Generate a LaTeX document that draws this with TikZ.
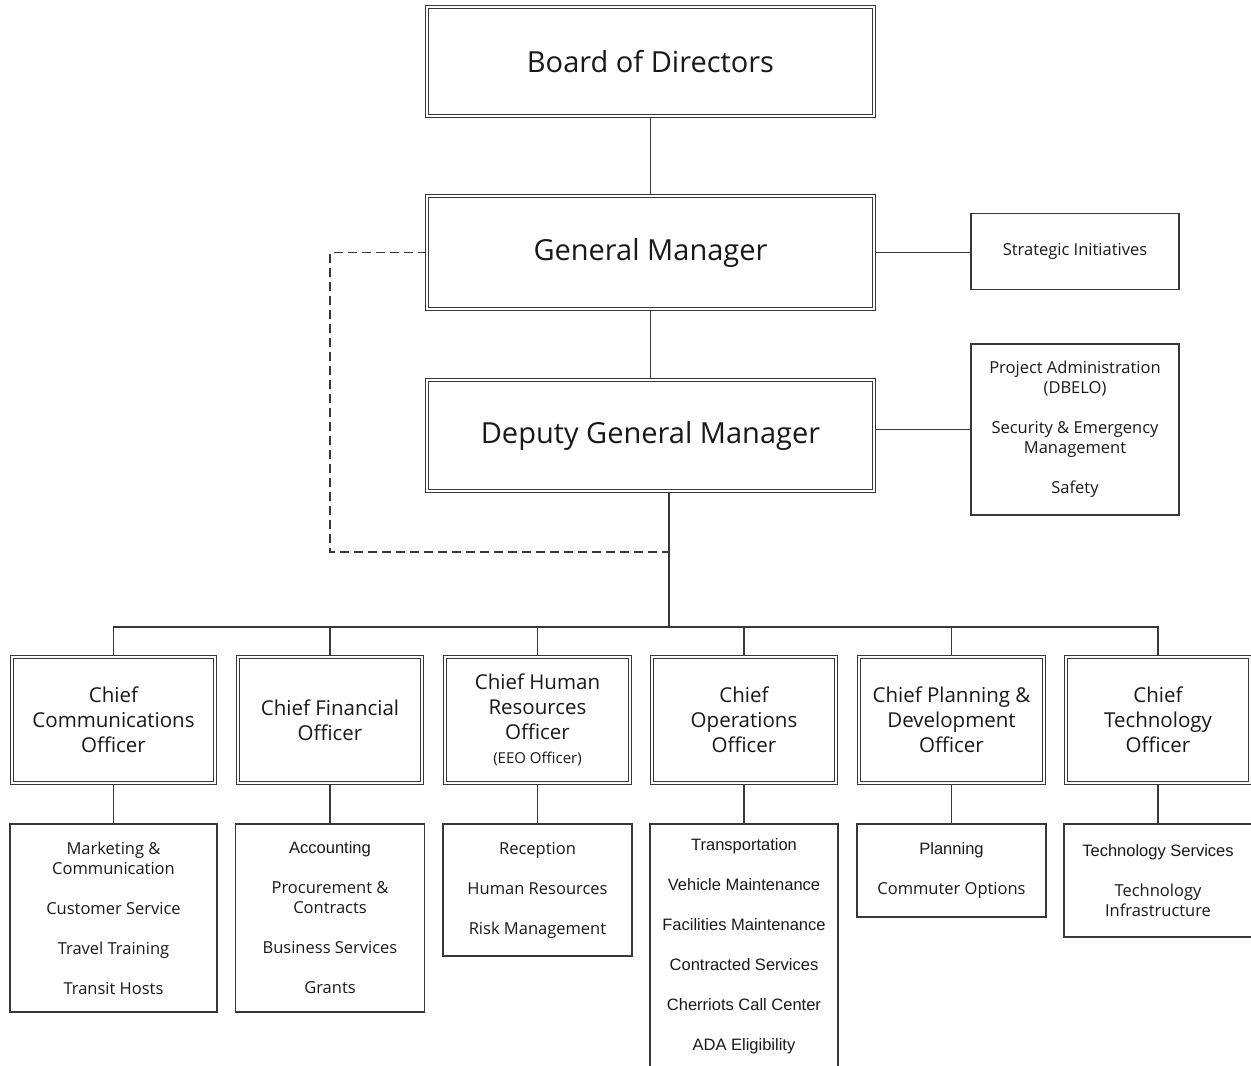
\documentclass[tikz,border=0pt]{standalone}
\usepackage{fontspec}
\setmainfont{Open Sans}
\newfontfamily\arialfont{Liberation Sans}
\usetikzlibrary{backgrounds}
\begin{document}
\begin{tikzpicture}[x=1pt,y=-1pt,
  lead/.style={draw=black!78, fill=white, double=white, double distance=2pt,
    line width=0.9pt, inner sep=0pt, align=center, text=black!90},
  unit/.style={draw=black!78, fill=white, line width=1.2pt, inner sep=0pt,
    align=center, text=black!90},
  link/.style={draw=black!78, line width=1.3pt},
  dotlink/.style={link, dash pattern=on 9pt off 5pt},
  big/.style={font=\fontsize{29}{35}\selectfont},
  chieftxt/.style={font=\fontsize{20.5}{25}\selectfont},
  subtxt/.style={font=\fontsize{16.5}{20}\selectfont},
  armtxt/.style={font=\arialfont\fontsize{16.5}{20}\selectfont},
  chief/.style={lead, chieftxt, minimum height=126pt},
]
\useasboundingbox (0,0) rectangle (1251,1066);
\clip (0,0) rectangle (1251,1066);

% top of the hierarchy
\node[lead, big, minimum width=447pt, minimum height=109pt] (board) at (650.5,61.5) {Board of Directors};
\node[lead, big, minimum width=447pt, minimum height=113pt] (gm) at (650.5,252.5) {General Manager};
\node[lead, big, minimum width=447pt, minimum height=111pt] (dgm) at (650.5,435.5) {Deputy General Manager};

% staff units on the right
\node[unit, subtxt, minimum width=208pt, minimum height=76pt] (si) at (1075,251.5) {Strategic Initiatives};
\node[unit, subtxt, minimum width=208pt, minimum height=171pt] (dg) at (1075,429.5)
  {Project Administration\\(DBELO)\\[20pt]Security \& Emergency\\Management\\[20pt]Safety};

% chief officers
\node[chief, minimum width=203pt] (c1) at (113.5,720) {Chief\\Communications\\Officer};
\node[chief, minimum width=184pt] (c2) at (330,720) {Chief Financial\\Officer};
\node[chief, minimum width=185pt] (c3) at (537.5,720)
  {Chief Human\\Resources\\Officer\\[-1pt]{\fontsize{15}{18}\selectfont (EEO Officer)}};
\node[chief, minimum width=184pt] (c4) at (744,720) {Chief\\Operations\\Officer};
\node[chief, minimum width=185pt] (c5) at (951.5,720) {Chief Planning \&\\Development\\Officer};
\node[chief, minimum width=184pt] (c6) at (1158,720) {Chief\\Technology\\Officer};

% departments under each chief
\node[unit, subtxt, minimum width=207pt, minimum height=188pt] (s1) at (113.5,918)
  {Marketing \&\\Communication\\[20pt]Customer Service\\[20pt]Travel Training\\[20pt]Transit Hosts};
\node[unit, subtxt, minimum width=189pt, minimum height=188pt] (s2) at (330,918)
  {{\arialfont Accounting}\\[20pt]Procurement \&\\Contracts\\[20pt]Business Services\\[20pt]Grants};
\node[unit, subtxt, minimum width=189pt, minimum height=132pt] (s3) at (537.5,890)
  {Reception\\[20pt]Human Resources\\[20pt]Risk Management};
\node[unit, armtxt, minimum width=188pt, minimum height=244pt] (s4) at (744,946)
  {Transportation\\[20pt]Vehicle Maintenance\\[20pt]Facilities Maintenance\\[20pt]Contracted Services\\[20pt]Cherriots Call Center\\[20pt]ADA Eligibility};
\node[unit, subtxt, minimum width=189pt, minimum height=93pt] (s5) at (951.5,870.5)
  {{\arialfont Planning}\\[20pt]Commuter Options};
\node[unit, subtxt, minimum width=188pt, minimum height=113pt] (s6) at (1158,880.5)
  {{\arialfont Technology Services}\\[20pt]Technology\\Infrastructure};

% reporting lines
\coordinate (drop) at ([xshift=18.5pt]dgm.south);
\coordinate (bus) at (669,627);
\coordinate (loop) at (330,552);
\coordinate (join) at (669,552);
\begin{scope}[on background layer]
  \draw[link] (board) -- (gm);
  \draw[link] (gm) -- (dgm);
  \draw[link] (gm.center) -- (gm.center -| si.west);
  \draw[link] (dg.west) -- (dg.west -| dgm.center);
  \draw[dotlink] (gm.west) -| (loop) -- (join);
  \draw[link] (drop) -- (bus);
  \draw[link] (c1.north) |- (bus) -| (c6.north);
  \foreach \c in {c2,c3,c4,c5}
    \draw[link] (\c.north) -- (\c.north |- bus);
  \foreach \i in {1,...,6}
    \draw[link] (c\i.south) -- (s\i.north);
\end{scope}
\end{tikzpicture}
\end{document}
